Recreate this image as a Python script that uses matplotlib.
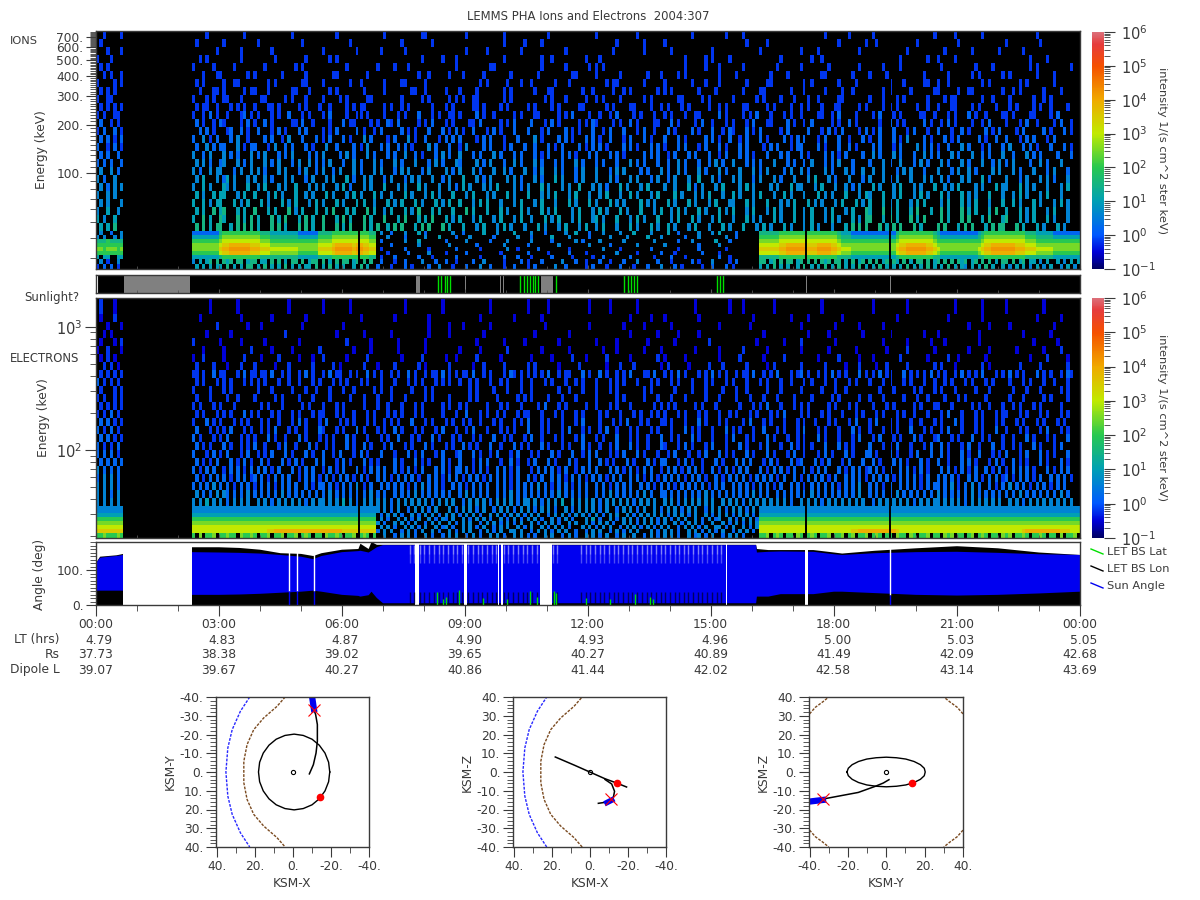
#!/usr/bin/env python3
import numpy as np
import matplotlib
matplotlib.use('Agg')
import matplotlib.pyplot as plt
from matplotlib.colors import LinearSegmentedColormap, LogNorm
from matplotlib.lines import Line2D
from matplotlib.ticker import FixedLocator, FixedFormatter, NullFormatter

plt.rcParams['font.family'] = 'DejaVu Sans'
plt.rcParams['mathtext.default'] = 'regular'
plt.rcParams['font.size'] = 8.8
GREY = '#3a3a3a'

# 5 minute time bins. "|" splits the bins before and after the 00:40-02:20 data gap,
# "#" means the cell comes from the band tables further down.
LEVELS = {'0': -0.5, '1': -0.2, '2': 0.2, '3': 0.6, '4': 1.0, '5': 1.5, '6': 2.0,
          '7': 2.5, '8': 3.0, '9': 3.5, 'a': 3.9, 'b': 4.2}


def band_row(left, quiet):
    # quiet = the 06:50-16:10 stretch where the low energy band is absent
    return left + '|' + '#' * 54 + quiet.replace(' ', '').ljust(112, '.')[:112] + '#' * 94


def split_row(left, before, quiet, after):
    return (left + '|' + before.replace(' ', '').ljust(54, '.')[:54]
            + quiet.replace(' ', '').ljust(112, '.')[:112] + after.replace(' ', '').ljust(94, '.')[:94])


ion_energy_edges = [758, 676, 604, 539, 481, 429, 383, 342, 305, 272, 243, 217, 194, 173, 154, 138, 123,
                    110, 98, 87.4, 78, 69.6, 62.1, 55.4, 49.5, 44.2, 41.7, 39.4, 37.2, 35.2, 33.2, 31.4,
                    29.7, 27.6, 25.7]
ion_rows = [
    '..1....1|....1..........1.. ...........1........ ....1.............1. .........11......... ..1..........1...... ......1............. 1...........1....... ........1.........1. ...1................ .......1......1..... .1.................1 .....1.......1...... .........1..........',
    '.1......|.1.......1........ .1............1..... ........1........... ...1........1....... .............1.....1 ....1............... ......1.......1..... 1................... ....1.....1......... ...........1.......1 ..1...........1..... ......1............. 1.........1.........',
    '...1...1|.......1......1... .....1.............. 1.........1......1.. ....1............... ..1.....1.........1. ...........1........ .....1........1..... ..1...........1..... ........1........... 1....1...........1.. ...........1........ ..1.......1.......1. .....1..............',
    '1...1...|..1.1.........1... ......1........1.... ..1.1............... .........1.....1... 1.............1..... .....1..1.........1. ..1................. .......1.....1.1.... 1..............1.... ....1..1............ ..........1.......1. .1....1............. ........1....1......',
    '.1.1....|1.....1.....1..... ...1........1.1..... .......1........1... .1...1.............1 .........11......... ....1......1......1. 1.1................. ......1.....1...1... ...1.........1...... 1.......1........1.. ....1....1.......... .1.........1....1... .......1.1.........1',
    '..1.1..1|...1...11.......1. 1.......1......1.... ...11........1...... ........1..1.....1.. .1.....1.......1.... ...1.........11..... 1......1.......1...1 ....1.1.........1... .1.........1....1... ......11.......1.... 1....1..........1... ...1......1.1......1 .1.......1....1.....',
    '1....1.1|.1.1.....1..11.... ....1.1.......11.... 1.......1..1......1. ...11.....1......... ......1.1.....1...1. .1......1...1....... ...1.11.......1..... 1.......1...1...1... ....1.....11........ .1.1.......1....1... ......1...1.....11.. 1..1.........1.1.... ....1.1.......1.....',
    '.1.1.1..|..1...11.1.....1.1 1...1......11...1... ..1.1.......1.....1. ......11..1.....1... 1....1.......1.1.... ..1...11........1..1 .....1..1.1.......1. 1.1.......1....1.... ...1....11.......1.. .1.....1....1..1.... ....1.1.....1......1 1.....1..11........1 ..1.1......1....1...',
    '1..11...|1...1.1..11...1... ..11.....1.1...1.... 1....1.1.....11..... ...1.....1.1.....1.1 .1..11.......1.1.... .....1.1...1.....1.. 1.1....1......1.1... ....11.....1.1...... 1......1.1....1...1. ..1..1.....11....... 1...1...1.1......1.. ..1.11.......1..1... .1......1..1.1......',
    '.1.1.1.1|.1.11..1...1.1.1.. 1...11.1.....1.1...1 ..1....1.1.11.....1. 1..1.1......1...1.1. ....11.1....1.1..... 1.1....1.1.....11... ...1.1....11....1..1 .1...1.1.....1..1.1. ...11.....1.1....1.. 1.1...1...11.....1.1 ....1.1.1.....1..1.. 1...11....1.1....1.. .1.1....1.1..1....1.',
    '1.1..11.|1..1.2.1..1...12.1 .1...1.1..2...1.1... 1.2....1..11.1....1. ..1.1...2...1.1..11. 1....2.1..1.....1.1. ..11.....1.1.2....1. .1..1.2....1.1...1.. 1.1...1..11.....2.1. ...1.1.2...1...1.1.. 1....11..1.2....1... .1.2...1.1.....11..1 ...1.1...2.1..1....1 1.1....11....1.2....',
    '.2..1.1.|.2.1..1.21....1.2. 1..2.1.....11.2..1.. ..1...2.11....1.1..2 1.2.....1.1.2...1.1. ...11.2.....1.1.2... .2...1.2.1.....1.1.2 1....1.1..2.1....11. ..2.1....1.2..1...1. 1...1.2...11....2.1. .1.2.....1.1..2.1... ...1..2.1.1.....2.1. .1.2.1....1..1.2.... 1...1.2..1....1.2..1',
    '1.2..2.1|..2.2.1...12..2.1. .2...1.2.1...2.2.... 1.1.2.....2.1..1.2.. ...2.1.1...2...2.1.2 .1..2...1.2.1...2... 2...1.2....2.1.1...2 ..1.2...2...1.2..1.. .2.1....2.1...2..1.2 1...2.1.2.....1.2... ..2...1.2.1.2....1.2 .1.2...2...1.2...1.. 2...1..2.1....2.1.2. ...1.2.....2.1...2.1',
    '.2.2.1.2|2..3.1.2...2.3..1. ...2.2..1.3...2...2. 1.2...2.1...3.2....1 .2...3.1..2...1.2.2. 2....1.2.2...1...2.. ..3.1....2.2.1...2.2 .1..2...1.2...2.1... 2...2.1.....2.2.1..2 ..1.2...2.1....2.1.2 .2...1.2...2..1...2. 1..2...2.1.3....2.1. ..2.1.2.....2.1..2.. 2...1.2.2...1.2.....',
    '2..1.2.1|.2..3.2.22...3.1.2 2...1.3..2.2...2.1.. .3..2....2.1.3...2.2 ..2.2.1....3.2...2.. 1.3....2.2...1.2...2 ..2...2.1.2....2.1.2 .2.1....2.2.1...2.2. 1...2.2...1.2...2.1. ..2.2....1.2.2...1.2 2....2.1...2..2.1... .2.2...1.2....3.2.2. 1..2...3.2...1.2...2 .3...2.2.1...2...2.1',
    '.2.2..2.|3..2.3...3.2.2...3 .2.3...2.2.3....2.2. 3....2.3.2...3.2...2 .2..3..2.1...2.3.2.. 3...2.2...3.2...2.2. ..2.1.2...2.2.1...2. 2...2.2.1.....2.2.2. .1.2...2.2...2..1.2. ..2.2.1...2...2.2... 2.1....2.2.1.2....2. .3.2...3.2...2..3.2. 2...3.2...3..2.2...3 ..2...3.2.2....2...2',
    '2.2.2..2|.3.3.2..23...3.2.3 ...3.2.3...2.3..3.2. 2.3...2..3.2...3.2.. .3.2...3...2.3.2...3 2....3.2.3...2..3.2. ..3.2...2.2...3.2... 2.2...2...3.2.2...2. .2..3.2...2..2.3.2.. 3...2.2.2...3...2.2. .2.3...2.2.3...2.... 2...3.2..3...2.3.2.. .3.2...3.2...3..2.3. 2.3....2..3.2...3...',
    '.3..3.2.|3.2..3.33...2.3..3 .3.2...3.3...2.3..2. 3..2.3...3.2...3.3.. .2.3.3...2.3....3.2. 3...3.2...3..3.2...3 ..2.3...3.2...2.3... 3...2.3.3....2.2...3 .2..3.2...3.2...3.2. ..3...3.2.3....2.3.. 3.2....3.2...3.2..3. .3..3...2.3.3...2... 3...2.3..3.2....3.3. ..3.2...3...2.3...2.',
    '3.2..3..|.3.4...3.24.3...3. 3..3.2...3.3...2.3.. .3.3...4.2..3.3...2. 3...2.3.3...3..2.3.. .4...3.2.3....3.3.2. ..3.2...4.3...2.3... 3...3.2...3.3...2.3. .2.3...3..4...3.2... 3.3...2.3...3.2...3. ..3.4...3.2...3...2. 3...3.2.3...3...3.3. .3.2...3.3...4.2.... 3...2.3...3.3.2...3.',
    '.3.2.3.3|3..4.3...43.3...4. .3.4...3.3..4...3.3. 3...3.4.2...3.3...4. ..3.3...4.3...3..3.2 .4.3...3.3.4....3.2. 3...4.3...3.3..4...3 .3.2...4.3...3.4.... 3..3...4.2.3...3.4.. ..3.4.3....3.3...4.3 3...3.4...3..3.2.3.. .4.3...3.4...3.3...4 ..3.3.4....3.3...4.3 3...4.3.3...3...3.4.',
    '3..3.3..|.4.3..4.44...3.4.. 4...3.4.3...4..3.3.. .4.3...3.4.3...4.3.. 3...4.3...3.4.3...4. ..3.4...3.3...4.3... 4...3.3.4...3.4...3. .3.4...3..4.3...3.4. ...4.3...3.3.4...3.. 4.3...3.4...3..4.3.. .3...4.3.3...4...3.4 3...4..3.4...3.4.3.. .4.3...4.3.3...4...3 ..3.4.3...3.4...3...',
    '.3.3...3|4..4.3.44...4.3.4. ..4.3...4.3.4...3.4. 3...4.3...4.4..3...4 .3.4...4.3...4.3.4.. 4...3.4.4...3...3.4. ..3.4...3...4.3...4. 3...4.3.3....4.3.3.. .4.3...4.3...3.4...3 3...4.3...4...3.3.4. ..4.3.3...3.4...4.3. 4...4.3.4...3.4.4... .3.4...4.3.4...3...4 ..4.3...4.3...3.4.3.',
    '3..4..3.|.4.4..5.45...4.4.. 5...4.4...5.3.4...4. .4.5...4.4...5.4..3. 4...4.3.5...4.4...4. ..5.4...4...4.3...4. 3...4.3.4....3.4...3 .4.3...4.3...4...3.4 ..3.4.3...4.3...4.3. 4...3.4...3.4.3...4. .3.4...3.4...3.4...5 4...5.4.4...4.5...4. .5.4...5.4.4...4.5.. 4...4.3.4...3.4...3.',
    '4.3..4..|4..5.4..54...5.4.5 .4...5.4.5...4.5.4.. 5...4.5.4...5.4...5. ..4.5...4.4.5...4.3. 4...3.4...3.4...3.4. .3...4.3.4...3.4...3 4.3...4...3.4.3...4. ..3.4...4.3...3.4... 3...4.3.3...4.3...4. .3.4...3.4.3...4.3.5 5...4.5.4...5.4.5... .5.4...5.5...4.5...4 5...4.3.4...4.3...3.',
    '.4.4.5..|.5.5.4.55..4.5.5. 5.4...5.5.4...5.5.4. .5...5.4.5...5.4.5.. 4.5.5...4.5.5...5.4. ..4...3.4...3.4.3... 3...4.3...3.4...3.4. .3.4...3...4.3...4.3 ..4.3...3.4...3...4. 3...4...3.4.3...4.3. ..3.4.3...3...4.5.5. 5...5.4.5.5...5.4... .5.5...4.5.5...4.5.5 5...5.4...4.3...4.3.',
    band_row('.3..2..3', '.3..2...3...4.2..... ..3..2.....4...3.... 4....3...2.....3..4 ...2...3....3...4... .3....4..2.....3...3 .4....2'),
    band_row('3.3..3.3', '...3....2.....3...4. ...2...3......2..... .3...2.....4....3... ..2.....3....3.....4 ...3......2...3..... ..3..2'),
    band_row('55565555', '.2......3...4....... 2.....3......2....3. .....3.....2......3. 2....3......3....... .3......2...3......4 ...2.'),
    band_row('66666666', '....2.......3....... .3.......2.......3.. ....2........3...... ..3.....2.......3... ....3.........2..... 3....'),
    band_row('77677767', '.1......2......1.... ...2......1.......3. .1.....2........1... ......3....1........ 2.......1.....2..... ..1..'),
    band_row('66666666', '...1.....2.....3.... 1.....2.........1... ....2.....1.....2... .1........3.....1... ...2...1.......2.... 1....'),
    band_row('4.44..44', '.1...2......2...1... ...2......1......2.. .2...1.....2.....1.. ...1..2.......2..... .1....2...1......... 2..1.'),
    split_row('.3.1..3.', '3.4.45.5.545.55.455. 44.5.5.4.55.5.455.5. 4.5.55.45.5.5.', '.2...1..2....3...2.. 2..1....2..3.....1.. ..2.1...2.....3...2. .1...2..1...2...3... ..2...1.....2.1...3. ...1.2.', '55.45.5.55.45.5.5.54 5.55.4.5.45.5.5.45.5 4.5.4.55.5.45.5.5.54 5.45.5.5.4.55.5.45.4 4.3.4..4.3.4.4.3.4')
    ,
    split_row('1.2.2.1.', '.4.4.4.44.5.4.4.55.4 .5.4.4.5.4.4.44.5.4. 5.4.4..4.5.4.', '2...1...2.1....2..3. ..1...2...3..2...1.. 2...1.2.....3..2.... .1.2...1...2...1...2 ...3...2.1.....1..2. ..2.1..', '4.4.5.4.4..4.5.4.4.5 .4.5.4.4.5.4.4.5.4.4 .4.5.4.4.5.4.4.5.4.4 3.4.4.5.4..4.3.4.4.3 .4.3.4..3.4.3..4')
    ,
]

# vertical profile of the band rows (top to bottom) for each kind of time bin
ion_profiles = {'g': '2467764', 'm': '4567875', 'y': '5678985', 'h': '6789a96', 'o': '678aba6'}
ion_band_classes = ('gggggggg'
                    + 'gggggggg' + 'yhho' + 'oooooh' + 'hhyyy' + 'mmmmmmmmgggggg' + 'yyyy' + 'hoooooho' + 'ohhyy'
                    + 'yyyyyy' + 'hhoooooohh' + 'hoooohhy' + 'mmmggggggggggggg' + 'yhhoooooohhy'
                    + 'mgggggggggggm' + 'yhhooooooohh' + 'hyyymmmmmgggggggg')

ele_energy_edges = [1710, 1268, 1092, 940, 809, 697, 601, 517, 445, 384, 330, 284, 245, 211, 182, 157,
                    135, 116, 100, 86, 74.2, 63.9, 55, 47.4, 40.8, 35.2, 30.8, 28.6, 26.6, 24.7, 22.9, 21.2, 19.3]
ele_rows = [
    '.1...0..|.....0.......0.... ..........0......... 0.......0........... ....0..........0.... .........0.......... 0.....0...........0. ....0.......0....... .........0.........0 ...0........0....... ......0............. .0.........0........ .....0.......0...... 0..........0........',
    '.0...1..|..0...........0... .....0.........0.... ...........0........ .0.........0........ ......0.........0... ....0............... ..........0.....0... 0.........0......... ......0..........0.. ..0.........0....... ........0........... ...0.........0...... .........0......0...',
    '...0...0|.......1........0. ..0...........0..... ......0............. ...........0.....0.. .0.......0.......... .....0............0. ........0.....0..... ..0.............0... .....0.............. 0.........0......0.. ....0............... .........0.....0.... .0............0.....',
    '..0.0...|....0......0...... .........1.......... ....0.......0....... 0..........0.....0.. .......0............ ..0.........0....... ..........0.......0. ....0.....0......... .........0.......... ..0.....0.........0. ......0.........0... 0...........0....... .....0.......0......',
    '.0...0.1|1.......0.....0... ...0.........0...... .......1......0..... ..0.......0......... .....0.......0.....0 .........0.......... 0.....0........0.... ...0.........1...... .......0.......0.... 1.........0......... ....0......0......0. ..0.........0....... ........0......0....',
    '0..1...0|...0.....0.......1 .....0.....0....... 1.........0....0.... ...0.......0........ .0.....0.......1.... .....0.......0...... ...0...0.......0.... 0.........0......0.. ....1......0........ .0.......0.......0.. ......0.....1....... 0.........0.....0... ....0.......0....1..',
    '.0.1.0..|0..1.....0.....1.. ..0....1.....0...0.. 1......0.....1...... ...0.....1......0..0 .....1......0....... .0.....0.....1...0.. ...1......0.......1. 0.....0.........0... ..1......0.....1.... .....0.....1.....0.. .0.......1.......0.. ...1..0.......0..... .......0....1.....0.',
    '..1.1.0.|.1....1...0...1... 1.....0...1......1.. ...1.0......1...0... .1......1.0......1.. ....0..1.....1...... 1.1......0.....1.... ...0...1...1.......0 .1.....0.....1...1.. ....1.....0.1....... 1......1.....0...1.. ..0..1.....1.......1 .1...0.......1.0.... ....1.....1.......1.',
    '.1.1.1.1|11.1..2.11...1.2.1 1.11.2..1.1..1.2.1.. 1.2.11..1.1..2.1.1.. 1.1..2.1..1.11.2.1.1 .11.2..1.1...1.21.1. 1.1.1.2..1.11...2.1. .2.1..1.1.2...11.2.. 1.1.2.1...1.1.2.1.1. .1.11.2..1.1.2...1.1 2.1..1.1.2.1.1...2.1 .1.2.11...2.1.1.1.2. 1.1..1.2.1.1.2...1.1 .2.1.1...2.1.1..1.21',
    '2.1.1.1.|.1.1...1.1.1...1.1 .1.1...1..1..1...1.1 ...1.1.1...1.1...1.. .1...1.1.1...1.1.1.. 1..1.1...1..1.1...1. .1...1.1...1..1.1... 1...1.1.1...1...1.1. ..1.1...1...1.1...1. 1...1...1.1...1..1.. .1.1...1..1...1.1... 1...1.1...1.1...1..1 ..1.1...1.1...1.1... .1...1.1...1..1...1.',
    '.1...1.1|1....1...1.1...... .1...1.....1...1..1. ..1...1..1.....1.1.. 1.....1...1.1....... ...1.1....1...1...1. .1.......1..1...1... 1...1.1.......1.1... ...1....1...1....1.. .1..1.....1...1..... 1.....1...1..1...... ...1...1.....1.1...1 .1...1.....1...1.... ..1...1...1.....1.1.',
    '1.1..1.1|.1...1....1..1.... 1.....1.1....1...1.. ..1.....1...1...1... 1...1.....1.1....1.. ...1.1.....1.....1.1 .1....1...1...1..... 1.....1.1.....1...1. ..1...1.....1...1... .1...1...1...1....1. ...1.....1.1.....1.. 1...1.....1...1..1.. ..1...1.1.....1..... .1...1.....1.1....1.',
    '.1.1.1.1|1.1...1.1...1..... ..1.1...1.....1.1... 1...1.1.....1...1..1 ...1...1.1.....1.1.. 1.1.....1...1.1...1. ...1.2...1.1.....1.. 1...1.1...1......1.1 .1.1.....1.1...1.... ..1...1.1.2...1...1. 1.1.....1.1...1.1... .1...1.1.....1.1...1 1...1.....1.1..1...1 ..1.1...1.1.....1...',
    '1.1.2.1.|.1.1...1.1.1...2.1 .1...1.1...1.1...1.1 1...1.1..1...1.1...1 .1.1...1.1.....1...1 ..2...1.1..1.1...1.1 1...1...1.1...1.1... .1.1...1...1.1..1.1. 1...1.1...1.1...1..1 .1...1.1...1.1.2.... 1.1...1.1...1...1.1. ..1.1...1.1..1...1.. .1.2...1...1.1...1.1 1...1.1...1.1...1.1.',
    '.2.2.1.1|1...2.1.1...1.1.1. ..1.1..1...1.2.1...1 .2...1.1.1...1.1..1. 1.1...2...1.1...1.1. .1.1..1...1.1...1.1. 2...1.1...1...1.2... .1...1.1.2...1.1...1 1.1...1...2.1...1.1. ...1.2...1.1...1...1 .1..1...1.1...1.2... 1.2...1.1...1..1...1 .1...2.1...1.1...1.1 ...1.1...1.1...1.1..',
    '2.1.2.1.|.2...1.1.1.2...1.1 ..1.1.2...1.1..1...2 1...1.1...2.1...1.1. .2.1...1.1...1.2...1 ..1.2...1...1.1.1... 2...1.1...1.2...1.1. .1.2..1...1.1...1.1. ..1...2.1.1...1...2. 1.1...1..2...1.1...1 .2...1.1...1...2.1.. 1...1.1.1...2...1.1. .1.2...1...1.1...2.. 1...1.1...1.2...1.1.',
    '.2.2.1.1|2.1...1.1.2...1.1. 1...2.1..1...2.1...1 .1.1...2.1...1...1.1 ..2...1.1...2.1...1. 1...1.1...2..1.1...1 .2..1...1.1...1.2... 1.1...2...1.1..1...2 ..1.1...2.1...1...1. 2...1.1...2.1...1..1 .1...2.1...1...1.2.. .1.2...1.1...2.1...1 2...1.1...2..1.1...1 ..1...2.1...1.1...2.',
    '2.1.1.2.|.2.1.1...2.1..1.1. 2..1...1.2..1...2.1. .1.1...2.1..2.1...1. 2...1.1...2.1...1.1. .2.1.1...2..1...2.1. 1...2.1...1.1...2.1. .1..1.2...2.1..1...2 1...1.2.1...1.2...1. ..2.1...1.2...1..2.1 .1.1...2...2.1.1.... 2...1.1.2...1...1.2. .2.1...1.2..1...2..1 ..1.1...2.1...1.2...',
    '2.2.2.1.|2...1.2.1.2...1.2. .1.1.2...2.1...2.1.. 2..1.2...1.2.1...2.. .1...2.1.2...1.2...1 2...2.1..1.2...1.2.. .1.1...2.1...2..1.2. 2...1.1.2...2.1...1. .1.2...1..1.2...2.1. 1...2.1...2.1...1.2. .1...1.2.1...2.1...2 2.1...2.1...1.2...2. .2.1...2.1..2...1.1. 2...1.2...2.1.1...2.',
    '.2.2.2.2|.2.1.1.2...2.1.2.1 ..2.1...2.1.2.1...2. 2...1.2.1...2.1.1... .2.1...2.1.1...2.1.. 2...1.2.2...1..2.1.. 1.2...2.1...2.1...2. .2.1.1...2.1...2.1.2 2...1.2.1..1...2.1.. .2.2.2...1.2.1...2.1 2...2.1.2...1.2...2. .2.1...2.2.1...2.1.. 2..1...2.2.1...1.2.1 ..2.1.1...2.1...2.1.',
    '3.2.2.2.|2.1.2.2..1.2.2.1.2 .2.2.1.2...2.1.2.2.. 1.2.1.2...2.1.2.2.2. .2.1.2.1.2...2.2.1.2 2.2.1.2.1..2.2.1.2.. .1.2.2.2.1.2..1.2.2. 2...2.2.1.2.1.2.2..1 .2.2.1.2.2.1..2.1.2. 1.2.2...2.1.2.2.1.2. .2.1.2.2...2.1.2.2.1 2.2.1.2..2.2.1.2.1.. .2.2.1.2.1.2..2.1.2. 1.2.2.2.1...2.1.2.2.',
    '2.3.3.2.|.2.1.2.2.2.1.2.2.1 2.2.1.2.2.2..1.2.2.1 .2.1.2.2.1.2.1..2.2. 1.2.2.2.1..2.2.1.2.2 .1.2.2.1.2.2.2.1.2.. 2.1.2..2.2.1.2.2.1.2 .2.1.2.2..2.2.1.2.1. 2.2.2.1.2.2.1..2.1.2 .2.2.1.2.2.2.1.2..2. 1.2.2.2.1.2..2.2.2.1 .2.2.2.1.2.2.2.1.2.. 2.2.2.1..2.2.1.2.2.1 2.1.2.2.1.2..2.2.2.1',
    '3.3.3.2.|2.2.2.3.2.2.1.2.2. 1.2.2.1.2.2.2..2.1.2 2.2.1.2.2.3.1.2..2.2 .2.2.1.2.3.2.2.1..2. 2.1.2.2.2..2.2.1.2.2 .2.3.2.1.2.2.1.2.2.. 2.2.1.2.2.2..2.2.1.2 .2.1.2.2.2.2.1.2.2.. 2.2.2.1.2.2.1.2..2.2 .1.2.2.2.2.1.2.2.3.. 2.2.1.2..2.2.2.1.2.2 2.2.3.1.2.3.2..2.1.2 .3.2.2.1.2.2.1.2.2..',
    '3.3.2.3.|.3.2.2.3.32.2.2.3. 2.2.2.2.3.2.2.2.2.2. 2.3.2.2.2.2.2.3.2.2. .2.2.2.3.2.2.2.2.2.. 2.3.2.2.2..2.2.3.2.2 .2.2.2.2.3.2.2.2.2.. 2.2.3.2.2.2.2.3.2..2 2.2.2.2.2.2.3.2.2.2. 2.2.2.3.2.2..2.2.2.2 .2.3.2.2.2.2.2.2.3.. 2.2.2.2.3.2.2.2.2.2. 3.2.2.2.2.3.2.2.2.2. 2.2.3.2.2.2.2.2.3.2.',
    '3.3.3.3.|3.3.4.3.3.2.3.3.3. .3.3.2.3.3.3.3.2.3.3 3.3.3.4.3.2.3.3.3.3. 2.3.3.3.3.3.2.3.3.3. .2.3.3.3.2.3.3.3.2.3 3.3.2.3.3.4..3.3.3.3 .2.3.3.3.3.2.3.3.3.. 3.3.2.3.3.3.3.3..3.3 .3.2.3.3.3.3.3.3.2.. 3.3.3.2.3.3.3.3.3.3. .2.3.3.3.3.3.2.3.3.3 3.3.3.3.2.3.3.3.3.3. .3.3.2.3.3.3.3.3.3.3',
    band_row('33333333', '3.3.2.3..2.3.3.2.3.. .3.2.3.3.2.3..2.3.3. 2.3.3.2.3.3.2..3.2.3 .3.3.2.3..2.3.3.2.3. .3.2.3.3.2.3.3..2.3. 3.2.3.3.2.3'),
    band_row('44444444', '.2.3.3.2..3.2.3.3.2. 3.3.2.3.3.2..3.3.2.3 .3.2.3.3..2.3.3.2.3. 3.2.3.2.3.3..3.2.3.3 .3.3.2.3.3.2.3..3.2. 3.3.2.3.3.2'),
    band_row('66666666', '.3.2..3.3.2.3..3.2.3 2.3..3.2.3.3.2..3.2. 3.2.3.3.2..3.2.3.2.. .3.4.2..3.2.3.3.2.3. 3.2.3.2.3.3..3.2.3.2 3..3.2.3.3.2'),
    band_row('77777777', '3.2..3.3.2.3..2.3.3. .3.2.3.3..2.3.3.2.3. 2.3..3.2.3.3.2..3.3. .3.2.3.3.2..3.3.2.3. 3.2.3..3.2.3.3.2..3. .3.2.3.2.3.3'),
    band_row('88888888', '.3.3.2..3.3.2.3..3.2 3.2..3.3.2.3..2.3.3. .3.2.3..3.2.3.3.2... 3.3.2.3.3..2.3.3.2.3 .2.3.3..2.3.3.2.3..3 3.2.3..3.2.3'),
    band_row('99999999', '2.3.3..2.3.2.3..3.2. .3.2.3.3..2.3.2.3..3 3.3..2.3.3.2.3.3..2. .2.3.3..2.3.2.3.3... 3.2.3.3.2..3.3.2.3.2 .3..2.3.3.2.'),
    split_row('66766676', '6.7.667.66766.76676.66 7.667.667.676.66.766 76.667.676.66', '..3..2.3.3.2.. 3.2..2.3.3..2.3.2..3 .3.2..3.3.2.2..3.3.. 2.3.2..3.3.2.3..2.3. .3..2.3.2.3.3.2..3.2 3.2.3..2.3.3.2.', '667.676.66.76.676.66 7.667.67.667.676.66.7 66.76.667.66.767.66. 67.676.66.767.6676.6 676.66.7.667.66'),
]
ele_profiles = {'g': '346788', 'y': '346789', 'h': '34678a'}
ele_band_classes = ('yyyyyyyy'
                    + 'ggggggggggggggggggggggyyhhhhhhhhhhhhhhhhhhhhyyyyyyyyyy'
                    + 'ggggggggggggggggggggggggggg' + 'yyhhhhhhhhhhhy' + 'gggggggggggggggggggggggggggggggggggg'
                    + 'yhhhhhhhhhhy' + 'yyggg')

time_major_hours = [0, 3, 6, 9, 12, 15, 18, 21, 24]
time_labels = ['00:00', '03:00', '06:00', '09:00', '12:00', '15:00', '18:00', '21:00', '00:00']
lt_labels = ['4.79', '4.83', '4.87', '4.90', '4.93', '4.96', '5.00', '5.03', '5.05']
rs_labels = ['37.73', '38.38', '39.02', '39.65', '40.27', '40.89', '41.49', '42.09', '42.68']
dipole_labels = ['39.07', '39.67', '40.27', '40.86', '41.44', '42.02', '42.58', '43.14', '43.69']

# start and end hour of the thin data drop-outs seen in both spectrograms
dropout_hours = [(6.39, 6.43), (17.29, 17.35), (19.35, 19.39)]

sun_gray_spans = [(0.68, 2.30), (7.80, 7.90), (8.99, 9.03), (9.86, 9.88), (9.93, 9.96),
                  (10.86, 11.15), (11.26, 11.28), (17.32, 17.35), (19.36, 19.38)]
sun_green_hours = [8.35, 8.42, 8.50, 8.57, 8.64, 10.35, 10.43, 10.50, 10.58, 10.65, 10.71, 10.79,
                   11.22, 12.89, 12.97, 13.04, 13.11, 13.19, 15.15, 15.22, 15.30]

# LET angles, nan marks the data gap
angle_hours = [0.0, 0.1, 0.3, 0.5, 0.67, np.nan, 2.33, 3.0, 3.5, 4.0, 4.5, 5.0, 5.3, 5.5, 6.0, 6.4, 6.45,
               6.65, 6.72, 6.85, 7.0, 7.5, 16.1, 16.12, 16.4, 16.7, 17.5, 18.0, 18.2, 19.0, 20.0, 21.0, 22.0, 23.0, 24.0]
lon_top = [120, 138, 140, 142, 146, np.nan, 165, 165, 163, 158, 148, 146, 140, 148, 158, 160, 175,
           160, 180, 172, 172, 172, 172, 160, 157, 157, 157, 150, 147, 155, 162, 168, 162, 150, 143]
sun_top = [120, 135, 138, 140, 143, np.nan, 151, 150, 149, 147, 143, 138, 131, 140, 151, 154, 155,
           150, 155, 165, 171, 171, 171, 150, 152, 153, 152, 145, 143, 148, 151, 152, 149, 145, 143]
sun_low = [41, 41, 41, 41, 41, np.nan, 29, 29, 30, 32, 35, 38, 41, 38, 29, 26, 24,
           28, 38, 20, 5, 5, 5, 24, 24, 31, 31, 38, 38, 34, 29, 27, 29, 33, 38]
angle_white_gaps = [(0.67, 2.33), (7.78, 7.88), (8.98, 9.05), (9.80, 9.84), (9.88, 9.93), (10.83, 11.12),
                    (15.37, 15.40), (17.30, 17.37)]
notch_hours = [4.71, 4.90, 5.31, 19.37]
notch_lows = [41, 41, 41, 29]
stripe_hours = [7.66, 7.76, 7.90, 8.01, 8.13, 8.24, 8.36, 8.47, 8.58, 8.70, 8.81, 8.93, 9.08, 9.19, 9.31,
                9.42, 9.53, 9.65, 9.76, 9.95, 10.06, 10.18, 10.29, 10.41, 10.52, 10.63, 10.75, 11.15, 11.25,
                11.83, 11.94, 12.06, 12.17, 12.29, 12.40, 12.51, 12.63, 12.74, 12.86, 12.97, 13.08, 13.20,
                13.31, 13.43, 13.54, 13.65, 13.77, 13.88, 14.00, 14.11, 14.22, 14.34, 14.45, 14.57, 14.68,
                14.79, 14.91, 15.02, 15.14, 15.25]
lat_hours = [8.32, 8.46, 8.54, 8.85, 9.43, 10.02, 10.59, 10.75, 11.18, 11.23, 11.95, 12.53, 13.14, 13.51, 13.59]
lat_tops = [38, 18, 22, 42, 20, 18, 40, 22, 40, 35, 20, 18, 32, 22, 16]

# orbit panels, KSM coordinates in Rs
bow_x = [22.6, 27.5, 31.8, 34.1, 35.1, 34.1, 31.8, 27.5, 22.6]
bow_r = [-40, -32.4, -22.6, -12.8, 0, 12.8, 22.6, 32.4, 40]
mp_x = [4, 8.3, 15.3, 20.5, 24, 25.7, 25.7, 25.7, 24, 20.5, 15.3, 8.3, 4]
mp_r = [-40, -35, -28.8, -22.6, -14.6, -5.7, 0, 5.7, 14.6, 22.6, 28.8, 35, 40]
corner_y = [-40, -37, -33, -30]
corner_z = [31, 34.5, 37.5, 40]

loop_x = [-19.4, -18.8, -16.9, -13.9, -10.1, -5.5, -0.7, 4.1, 8.7, 12.5, 15.5, 17.4, 18,
          17.4, 15.5, 12.5, 8.7, 4.1, -0.7, -5.5, -10.1, -13.9, -16.9, -18.8, -19.4]
loop_y = [0, 5.2, 10.1, 14.3, 17.5, 19.5, 20.2, 19.5, 17.5, 14.3, 10.1, 5.2, 0,
          -5.2, -10.1, -14.3, -17.5, -19.5, -20.2, -19.5, -17.5, -14.3, -10.1, -5.2, 0]
track_xy_x = [-8.7, -10.8, -12.2, -12.9, -12.9, -12.0, -11.1, -10.3]
track_xy_y = [1, -3.9, -10.1, -16.4, -25.3, -30.6, -33.3, -39.5]
blue_xy_x = [-10.3, -11.1]
blue_xy_y = [-39, -33.5]

line_xz_x = [18.1, 8, 0, -8, -14.4, -19.3]
line_xz_z = [8, 3.6, 0, -3.6, -6, -8]
track_xz_x = [-8, -11.5, -13, -12.3, -10.6, -4.5]
track_xz_z = [-4, -6.4, -10.3, -13.9, -15.8, -16.7]
blue_xz_x = [-9, -11.5]
blue_xz_z = [-16.3, -15]

loop_yz_y = [-20.5, -19.8, -17.8, -14.5, -10.2, -5.3, 0, 5.3, 10.2, 14.5, 17.8, 19.8, 20.3,
             19.8, 17.8, 14.5, 10.2, 5.3, 0, -5.3, -10.2, -14.5, -17.8, -19.8, -20.5]
loop_yz_z = [0, 2.0, 3.9, 5.6, 6.9, 7.6, 7.9, 7.6, 6.9, 5.6, 3.9, 2.0, 0,
             -2.0, -3.9, -5.6, -6.9, -7.6, -7.9, -7.6, -6.9, -5.6, -3.9, -2.0, 0]
track_yz_y = [-39.8, -32.9, -14.6, -5.9, -1.6, 1.4]
track_yz_z = [-15.7, -14.4, -10.9, -7.7, -5.9, -4.1]
blue_yz_y = [-39.5, -33]
blue_yz_z = [-15.7, -14.9]

W, H = 1200, 900
N_BINS = 288
cmap = LinearSegmentedColormap.from_list('lemms', [
    (0.0, '#000064'), (0.07, '#0000d8'), (0.143, '#0058ff'), (0.286, '#00a0b4'), (0.429, '#28c850'),
    (0.571, '#c0ea00'), (0.714, '#f0aa00'), (0.857, '#f55000'), (0.95, '#e63c3c'), (1.0, '#dc6e78')])
cmap.set_bad('black')
norm = LogNorm(1e-1, 1e6)


def px_axes(left, top, right, bottom):
    return fig.add_axes([left / W, 1 - bottom / H, (right - left) / W, (bottom - top) / H])


def px_text(x, y, s, **kw):
    kw.setdefault('color', GREY)
    kw.setdefault('va', 'center')
    return fig.text(x / W, 1 - y / H, s, **kw)


def style_frame(ax):
    for sp in ax.spines.values():
        sp.set_color(GREY)
        sp.set_linewidth(1.0)


def parse_rows(rows, profiles, band_classes, first_band_row):
    band_bins = list(range(8)) + list(range(28, 82)) + list(range(194, 288))
    band_by_bin = dict(zip(band_bins, band_classes))
    grid = []
    for i, row in enumerate(rows):
        left, right = row.replace(' ', '').split('|')
        cells = left.ljust(8, '.')[:8] + '.' * 20 + right.ljust(260, '.')[:260]
        vals = []
        for b, c in enumerate(cells):
            if c == '#':
                c = profiles[band_by_bin.get(b, 'g')][i - first_band_row]
            vals.append(10 ** LEVELS[c] if c in LEVELS else np.nan)
        grid.append(vals)
    return np.array(grid)


def spectrogram(ax, z, edges):
    ax.set_facecolor('black')
    time_edges = np.arange(N_BINS + 1) / 12
    mesh = ax.pcolormesh(time_edges, edges, z, cmap=cmap, norm=norm, shading='flat')
    for t0, t1 in dropout_hours:
        ax.axvspan(t0, t1, color='black', lw=0)
    ax.set_yscale('log')
    ax.set_ylim(edges[-1], edges[0])
    time_ticks(ax, 'in')
    style_frame(ax)
    return mesh


def time_ticks(ax, direction):
    ax.set_xlim(0, 24)
    ax.set_xticks(time_major_hours)
    ax.set_xticks(np.arange(25), minor=True)
    ax.tick_params(axis='x', which='both', labelbottom=False, direction=direction,
                   color='#555555' if direction == 'in' else GREY)
    ax.tick_params(axis='x', which='major', length=3 if direction == 'in' else 8)
    ax.tick_params(axis='x', which='minor', length=2 if direction == 'in' else 4)


def colorbar(mesh, top, bottom):
    cax = px_axes(1092, top, 1104, bottom)
    cb = fig.colorbar(mesh, cax=cax)
    cb.set_ticks([10.0 ** k for k in range(-1, 7)])
    cb.ax.tick_params(which='major', length=8, color=GREY, labelcolor=GREY, labelsize=10.5, pad=4)
    cb.ax.tick_params(which='minor', length=4, color=GREY)
    cb.outline.set_visible(False)
    px_text(1162, (top + bottom) / 2, 'intensity 1/(s cm^2 ster keV)', rotation=270, ha='center', fontsize=8.2)


fig = plt.figure(figsize=(12, 9), dpi=100)
px_text(588, 17, 'LEMMS PHA Ions and Electrons  2004:307', ha='center', fontsize=8.4)

# ions
ax_ion = px_axes(96, 31, 1080, 269)
mesh = spectrogram(ax_ion, parse_rows(ion_rows, ion_profiles, ion_band_classes, 25), ion_energy_edges)
ion_ticks = [100, 200, 300, 400, 500, 600, 700]
ax_ion.yaxis.set_major_locator(FixedLocator(ion_ticks))
ax_ion.yaxis.set_major_formatter(FixedFormatter(['%d.' % t for t in ion_ticks]))
ax_ion.yaxis.set_minor_locator(FixedLocator(list(range(30, 100, 10)) + list(range(110, 760, 10))))
ax_ion.yaxis.set_minor_formatter(NullFormatter())
ax_ion.tick_params(axis='y', which='major', length=7, color=GREY, labelcolor=GREY, labelsize=8.8, pad=2)
ax_ion.tick_params(axis='y', which='minor', length=4, color=GREY)
colorbar(mesh, 32, 269)
px_text(10, 41, 'IONS', fontsize=8.2)
px_text(41, 150, 'Energy (keV)', rotation=90, ha='center')

# sunlight flag
ax_sun = px_axes(96, 275, 1080, 293)
ax_sun.set_facecolor('black')
for t0, t1 in sun_gray_spans:
    ax_sun.axvspan(t0, t1, color='#808080', lw=0)
ax_sun.vlines(sun_green_hours, 0, 1, color='#00e000', lw=1)
ax_sun.vlines([0.03], 0, 1, color='white', lw=0.8)
ax_sun.set_ylim(0, 1)
ax_sun.set_yticks([])
time_ticks(ax_sun, 'in')
style_frame(ax_sun)
px_text(79, 297, 'Sunlight?', ha='right', fontsize=8.5)

# electrons
ax_ele = px_axes(96, 298, 1080, 538)
mesh = spectrogram(ax_ele, parse_rows(ele_rows, ele_profiles, ele_band_classes, 25), ele_energy_edges)
ax_ele.yaxis.set_major_locator(FixedLocator([100, 1000]))
ax_ele.yaxis.set_major_formatter(FixedFormatter(['$10^{2}$', '$10^{3}$']))
ax_ele.yaxis.set_minor_locator(FixedLocator([20, 30, 40, 50, 60, 70, 80, 90, 200, 300, 400, 500, 600, 700, 800, 900]))
ax_ele.yaxis.set_minor_formatter(NullFormatter())
ax_ele.tick_params(axis='y', which='major', length=8, color=GREY, labelcolor=GREY, labelsize=10.5, pad=2)
ax_ele.tick_params(axis='y', which='minor', length=4, color=GREY)
colorbar(mesh, 298, 538)
px_text(10, 358, 'ELECTRONS', fontsize=8.4)
px_text(44, 418, 'Energy (keV)', rotation=90, ha='center')

# angles
ax_ang = px_axes(96, 542, 1080, 605)
ax_ang.fill_between(angle_hours, 0, lon_top, color='black', lw=0)
ax_ang.fill_between(angle_hours, sun_low, sun_top, color='#0000f0', lw=0)
ax_ang.vlines(stripe_hours, 120, 172, color='white', lw=1.0, alpha=0.3)
ax_ang.vlines(stripe_hours, 145, 172, color='white', lw=1.0, alpha=0.3)
ax_ang.vlines(stripe_hours, 5, 38, color='black', lw=1.0, alpha=0.6)
ax_ang.vlines(lat_hours, 0, lat_tops, color='#00e000', lw=1.0)
for t0, t1 in angle_white_gaps:
    ax_ang.axvspan(t0, t1, color='white', lw=0)
ax_ang.vlines(notch_hours, notch_lows, 172, color='white', lw=1.0)
ax_ang.vlines(notch_hours, 0, notch_lows, color='#0000f0', lw=1.0)
ax_ang.set_ylim(0, 180)
time_ticks(ax_ang, 'out')
ax_ang.set_yticks([0, 100])
ax_ang.set_yticklabels(['0.', '100.'])
ax_ang.set_yticks(np.arange(0, 181, 10), minor=True)
ax_ang.tick_params(axis='y', which='major', length=7, color=GREY, labelcolor=GREY, pad=2)
ax_ang.tick_params(axis='y', which='minor', length=4, color=GREY)
style_frame(ax_ang)
px_text(40, 574, 'Angle (deg)', rotation=90, ha='center')

for key_y, key_color, key_text in [(552, '#00e000', 'LET BS Lat'), (569, 'black', 'LET BS Lon'), (586, '#0000f0', 'Sun Angle')]:
    fig.add_artist(Line2D([1091 / W, 1103 / W], [1 - (key_y - 3) / H, 1 - (key_y + 2) / H], color=key_color, lw=1))
    px_text(1107, key_y, key_text, fontsize=8.2)

# table below the time axis
for row_y, title, labels in [(624, None, time_labels), (640, 'LT (hrs)', lt_labels),
                             (655, 'Rs', rs_labels), (670, 'Dipole L', dipole_labels)]:
    if title:
        px_text(60, row_y, title, ha='right')
    for hour, text in zip(time_major_hours, labels):
        px_text(96 + 41 * hour + 17, row_y, text, ha='right')


def orbit_axes(left, right, xname, yname, xlim, ylim):
    ax = px_axes(left, 697, right, 847)
    ax.set_xlim(*xlim)
    ax.set_ylim(*ylim)
    ticks = [-40, -20, 0, 20, 40]
    ax.set_xticks(ticks)
    ax.set_xticklabels(['%d.' % t for t in ticks])
    ax.set_xticks(np.arange(-40, 41, 10), minor=True)
    yt = np.arange(-40, 41, 10)
    ax.set_yticks(yt)
    ax.set_yticklabels(['%d.' % t for t in yt])
    ax.set_yticks(np.arange(-40, 41, 2), minor=True)
    ax.tick_params(which='major', length=7, color=GREY, labelcolor=GREY, pad=2)
    ax.tick_params(which='minor', length=4, color=GREY)
    ax.set_xlabel(xname, color=GREY, labelpad=3)
    ax.set_ylabel(yname, color=GREY, labelpad=2)
    style_frame(ax)
    ax.plot([0], [0], 'o', mfc='white', mec='black', ms=3, mew=0.8)
    return ax


def markers(ax, dot, cross):
    ax.plot(*dot, 'o', color='red', ms=4.5, zorder=5)
    ax.plot(*cross, 'x', color='red', ms=9, mew=0.8, zorder=6)


BOW = '#2828ff'
MP = '#7a4a20'
DASH = (0, (2, 1))

ax1 = orbit_axes(216, 369, 'KSM-X', 'KSM-Y', (40.3, -40), (40, -40))
ax1.plot(bow_x, bow_r, color=BOW, lw=1, ls=DASH)
ax1.plot(mp_x, mp_r, color=MP, lw=1, ls=DASH)
ax1.plot(loop_x, loop_y, color='black', lw=1.0)
ax1.plot(track_xy_x, track_xy_y, color='black', lw=1.1)
ax1.plot(blue_xy_x, blue_xy_y, color='#0000f0', lw=4.5)
markers(ax1, (-14.3, 13.2), (-11.1, -33.3))

ax2 = orbit_axes(513, 666, 'KSM-X', 'KSM-Z', (40.3, -40), (-40, 40))
ax2.plot(bow_x, bow_r, color=BOW, lw=1, ls=DASH)
ax2.plot(mp_x, mp_r, color=MP, lw=1, ls=DASH)
ax2.plot(line_xz_x, line_xz_z, color='black', lw=1.1)
ax2.plot(track_xz_x, track_xz_z, color='black', lw=1.1)
ax2.plot(blue_xz_x, blue_xz_z, color='#0000f0', lw=4)
markers(ax2, (-14.4, -6), (-11.3, -14.5))

ax3 = orbit_axes(809, 963, 'KSM-Y', 'KSM-Z', (-40.3, 40), (-40, 40))
for sx, sz in [(1, 1), (-1, 1), (1, -1), (-1, -1)]:
    ax3.plot(np.array(corner_y) * sx, np.array(corner_z) * sz, color=MP, lw=1, ls=DASH)
ax3.plot(loop_yz_y, loop_yz_z, color='black', lw=1.0)
ax3.plot(track_yz_y, track_yz_z, color='black', lw=1.1)
ax3.plot(blue_yz_y, blue_yz_z, color='#0000f0', lw=4.5)
markers(ax3, (13.6, -6), (-33, -14.3))

fig.savefig('out.png', dpi=100)
